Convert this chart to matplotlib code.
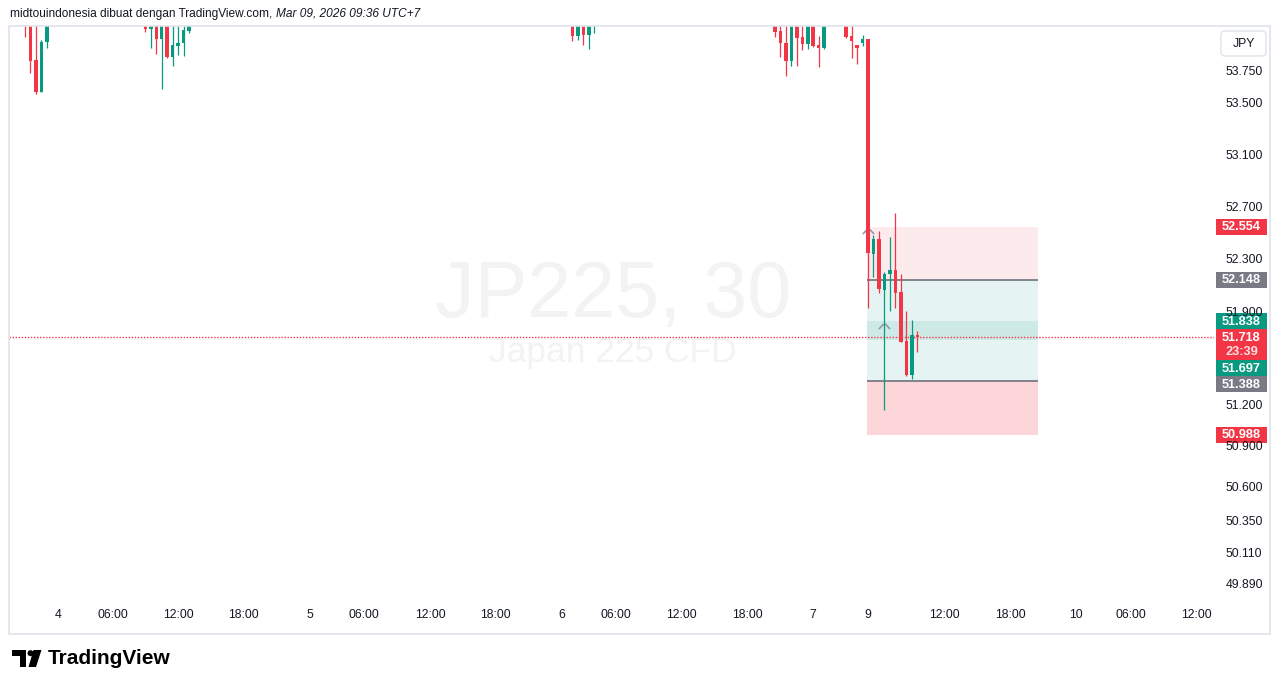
import numpy as np
import matplotlib
matplotlib.use('Agg')
import matplotlib.pyplot as plt
from matplotlib.patches import Rectangle, FancyBboxPatch, Polygon, Circle
from matplotlib.path import Path
from matplotlib.ticker import NullLocator

plt.rcParams['font.family'] = ['Liberation Sans', 'DejaVu Sans']

W, H = 1281, 688
RED = '#f23645'
GREEN = '#089981'
GREY = '#787b86'
INK = '#131722'

# JP225 30m candles, price in thousands (53.750 = 53,750); bar 0 = day "4" 00:00
bar_idx = [-6, -5, -4, -3, -2,
           16, 17, 18, 19, 20, 21, 22, 23, 24,
           94, 95, 96, 97, 98,
           131, 132, 133, 134, 135, 136, 137, 138, 139, 140,
           144, 145, 146, 147,
           148, 149, 150, 151, 152, 153, 154, 155, 156, 157]
opens = [54.22, 54.18, 53.844, 53.596, 53.987,
         54.12, 54.085, 54.15, 54.006, 54.14, 53.865, 53.956, 53.975, 54.074,
         54.13, 54.034, 54.14, 54.040, 54.12,
         54.14, 54.071, 53.975, 53.838, 54.15, 54.022, 53.969, 54.14, 53.961, 53.940,
         54.13, 54.032, 53.961, 53.979,
         54.008, 52.349, 52.461, 52.076, 52.193, 52.225, 52.061, 51.689, 51.435, 51.734]
highs = [54.26, 54.20, 54.15, 54.001, 54.20,
         54.14, 54.17, 54.18, 54.16, 54.15, 54.13, 54.12, 54.13, 54.17,
         54.15, 54.16, 54.16, 54.15, 54.20,
         54.16, 54.13, 54.12, 54.17, 54.17, 54.13, 54.16, 54.15, 54.032, 54.15,
         54.14, 54.12, 53.961, 54.040,
         54.008, 52.492, 52.522, 52.213, 52.479, 52.662, 52.195, 51.917, 51.847, 51.765]
lows = [54.024, 53.740, 53.578, 53.594, 53.940,
        54.066, 53.935, 53.888, 53.615, 53.862, 53.799, 53.883, 53.878, 54.058,
        53.995, 54.000, 53.961, 53.930, 54.058,
        54.027, 53.870, 53.721, 53.799, 53.799, 53.922, 53.928, 53.948, 53.791, 53.932,
        54.019, 53.862, 53.815, 53.956,
        51.940, 52.170, 52.049, 51.174, 51.917, 51.940, 51.684, 51.427, 51.405, 51.609]
closes = [54.13, 53.836, 53.596, 53.987, 54.16,
          54.085, 54.15, 54.006, 54.14, 53.865, 53.961, 53.979, 54.079, 54.15,
          54.034, 54.14, 54.040, 54.13, 54.18,
          54.066, 53.975, 53.838, 54.15, 54.019, 53.969, 54.14, 53.956, 53.940, 54.13,
          54.027, 53.995, 53.940, 54.008,
          52.352, 52.461, 52.079, 52.195, 52.225, 52.053, 51.684, 51.435, 51.734, 51.718]

last_price = 51.718
countdown = '23:39'

# time axis
tick_pos = [0, 10, 22, 34, 46, 56, 68, 80, 92, 102, 114, 126, 138, 148, 162, 174, 186, 196, 208]
tick_labels = ['4', '06:00', '12:00', '18:00', '5', '06:00', '12:00', '18:00',
               '6', '06:00', '12:00', '18:00', '7', '9', '12:00', '18:00', '10', '06:00', '12:00']

# price axis (log scale)
price_ticks = [53.75, 53.5, 53.1, 52.7, 52.3, 51.9, 51.2, 50.9, 50.6, 50.35, 50.11, 49.89]

# two position tools drawn over the same bars
tool_x = (147.8, 179.0)
short_entry, short_stop, short_target = 52.148, 52.554, 51.697
long_entry, long_stop, long_target = 51.388, 50.988, 51.838
tool_handles_x = [148, 151]
tool_handles_y = [52.52, 51.80]

fig = plt.figure(figsize=(W / 100, H / 100), dpi=100)
fig.patch.set_facecolor('white')

ax_l, ax_r, ax_t, ax_b = 9, 1214, 26, 603
ax = fig.add_axes([ax_l / W, (H - ax_b) / H, (ax_r - ax_l) / W, (ax_b - ax_t) / H])
ax.set_yscale('log')
ax.set_ylim(49.758, 54.1105)
ax.set_xlim(-8.9, 211.2)
ax.yaxis.set_major_locator(NullLocator())
ax.yaxis.set_minor_locator(NullLocator())
for s in ax.spines.values():
    s.set_visible(False)
ax.set_xticks(tick_pos, tick_labels)
ax.tick_params(axis='x', length=0, pad=4, labelsize=8.8, labelcolor=INK)

# watermark
ax.text(0.501, 0.4957, 'JP225, 30', transform=ax.transAxes, ha='center', va='baseline',
        fontsize=57, color='#f3f3f4', zorder=0.2)
ax.text(0.501, 0.4177, 'Japan 225 CFD', transform=ax.transAxes, ha='center', va='baseline',
        fontsize=25.5, color='#f3f3f4', zorder=0.2)

# position tools
x0, x1 = tool_x
def zone(lo, hi, color, alpha):
    ax.add_patch(Rectangle((x0, lo), x1 - x0, hi - lo, facecolor=color, alpha=alpha,
                           edgecolor='none', zorder=1))

zone(short_entry, short_stop, RED, 0.1)
zone(short_target, short_entry, GREEN, 0.1)
zone(long_entry, long_target, GREEN, 0.1)
zone(long_stop, long_entry, RED, 0.2)
ax.hlines([short_entry, long_entry], x0, x1, color=GREY, lw=1.3, zorder=1.5)

caret = Path([(-1, -0.45), (-0.15, 0.45), (0.15, 0.45), (1, -0.45)],
             [Path.MOVETO, Path.LINETO, Path.MOVETO, Path.LINETO])
ax.plot(tool_handles_x, tool_handles_y, ls='none', marker=caret, ms=8, mfc='none',
        mec='#9598a1', mew=1.2, zorder=1.6)

# last price line
ax.axhline(last_price, color=RED, lw=1.0, ls=(0, (1, 1.2)), zorder=2)

# candles
o = np.array(opens); c = np.array(closes)
cols = [GREEN if cc >= oo else RED for oo, cc in zip(o, c)]
ax.vlines(bar_idx, lows, highs, colors=cols, lw=0.9, zorder=3)
bottoms = np.minimum(o, c)
heights = np.maximum(np.abs(c - o), 0.004)
ax.bar(bar_idx, heights, bottom=bottoms, width=0.64, color=cols, linewidth=0, zorder=3.1)

# overlay in pixel coordinates for axis labels, header and logo
ov = fig.add_axes([0, 0, 1, 1])
ov.set_xlim(0, W)
ov.set_ylim(H, 0)
ov.axis('off')
ov.patch.set_visible(False)
ov.set_zorder(5)

def py(p):
    return H - ax.transData.transform((0, p))[1]

# panel frame
ov.add_patch(Rectangle((9, 26), 1261, 608, facecolor='none', edgecolor='#e0e3eb', lw=1.2))

# JPY box
ov.add_patch(FancyBboxPatch((1221, 31), 45, 25, boxstyle='round,pad=0,rounding_size=4',
                            facecolor='white', edgecolor='#e0e3eb', lw=1))
ov.text(1243.5, 44, 'JPY', ha='center', va='center', fontsize=8.8, color=INK)

for v in price_ticks:
    ov.text(1226, py(v), f'{v:.3f}', ha='left', va='center', fontsize=8.8, color=INK)

# price labels on the axis, stacked so they do not overlap
axis_tags = [
    (short_stop, RED, None),
    (short_entry, GREY, None),
    (long_target, GREEN, None),
    (last_price, RED, countdown),
    (short_target, GREEN, None),
    (long_entry, GREY, None),
    (long_stop, RED, None),
]
prev_bottom = -1e9
for price, color, sub in sorted(axis_tags, key=lambda t: -t[0]):
    top = max(py(price) - 8, prev_bottom)
    h = 31 if sub else 16
    ov.add_patch(Rectangle((1216, top), 51, h, facecolor=color, edgecolor='none'))
    ov.text(1241.5, top + 8.3, f'{price:.3f}', ha='center', va='center', fontsize=9.2,
            color='white', fontweight='bold')
    if sub:
        ov.text(1241.5, top + 23, sub, ha='center', va='center', fontsize=9.2,
                color='#ffe1e4', fontweight='bold')
    prev_bottom = top + h

# header
renderer = fig.canvas.get_renderer()
t1 = ov.text(10, 14, 'midtouindonesia dibuat dengan TradingView.com, ', ha='left',
             va='center', fontsize=8.6, color=INK)
x_end = t1.get_window_extent(renderer).x1
ov.text(x_end, 14, 'Mar 09, 2026 09:36 UTC+7', ha='left', va='center', fontsize=8.6,
        color=INK, style='italic')

# TradingView logo
lx, ly = 12, 650
ov.add_patch(Rectangle((lx, ly), 14, 5.5, facecolor='black', edgecolor='none'))
ov.add_patch(Rectangle((lx + 8, ly), 6, 17, facecolor='black', edgecolor='none'))
ov.add_patch(Circle((lx + 18.5, ly + 3.2), 3.0, facecolor='black', edgecolor='none'))
ov.add_patch(Polygon([(lx + 21.5, ly), (lx + 29.5, ly), (lx + 24, ly + 17), (lx + 16.5, ly + 17)],
                     closed=True, facecolor='black', edgecolor='none'))
ov.text(48, 658.5, 'TradingView', ha='left', va='center', fontsize=15,
        fontweight='bold', color='black')

fig.savefig('out.png', dpi=100, facecolor='white')
